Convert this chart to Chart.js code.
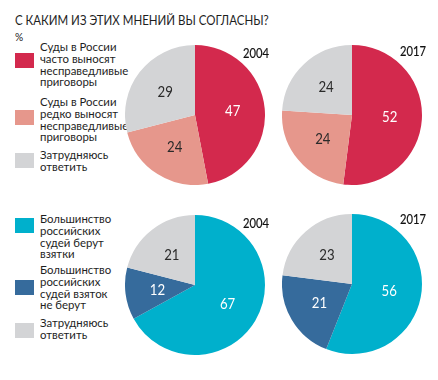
<!DOCTYPE html>
<html><head><meta charset="utf-8">
<script src="https://cdn.jsdelivr.net/npm/chart.js@4.4.0/dist/chart.umd.min.js"></script>
<style>
html,body{margin:0;padding:0;background:#fff;}
body{width:438px;height:380px;position:relative;overflow:hidden;font-family:Lato,"Noto Sans",sans-serif;color:#222;}
.abs{position:absolute;}
#title{left:15px;top:11px;font-size:14px;white-space:nowrap;transform:scaleX(0.82);transform-origin:0 0;color:#1e1e1e;}
#pct{left:15px;top:29px;font-size:12px;transform:scaleX(0.85);transform-origin:0 0;}
.sq{position:absolute;width:19px;height:15px;}
.lt{position:absolute;left:40px;font-size:12px;line-height:11.8px;width:100px;white-space:nowrap;color:#1e1e1e;transform:scaleX(0.95);transform-origin:0 0;}
.yr{position:absolute;font-size:14px;transform:scaleX(0.8);transform-origin:0 0;color:#111;-webkit-text-stroke:0.2px #111;}
canvas{position:absolute;}
</style></head><body>
<div id="title" class="abs">С КАКИМ ИЗ ЭТИХ МНЕНИЙ ВЫ СОГЛАСНЫ?</div>
<div id="pct" class="abs">%</div>
<div id="root"></div>
<script>
// ---- data ----
const categoriesVerdicts = ["Суды в России часто выносят несправедливые приговоры", "Суды в России редко выносят несправедливые приговоры", "Затрудняюсь ответить"];
const categoriesBribes = ["Большинство российских судей берут взятки", "Большинство российских судей взяток не берут", "Затрудняюсь ответить"];
const years = ["2004", "2017"];
const verdicts2004 = [47, 24, 29];
const verdicts2017 = [52, 24, 24];
const bribes2004 = [67, 12, 21];
const bribes2017 = [56, 21, 23];

// ---- styles ----
const colorsVerdicts = ["#D3294D", "#E6978C", "#D3D4D6"];
const colorsBribes = ["#00B0CC", "#366B9C", "#D3D4D6"];
const labelColorsVerdicts = ["#ffffff", "#2a2a2a", "#2a2a2a"];
const labelColorsBribes = ["#ffffff", "#ffffff", "#2a2a2a"];

const root = document.getElementById('root');

function legend(cats, colors, sqTops, textTops, lineBreaks){
  cats.forEach((c,i)=>{
    const s=document.createElement('div');s.className='sq';
    s.style.left='15px';s.style.top=sqTops[i]+'px';s.style.background=colors[i];
    root.appendChild(s);
    const t=document.createElement('div');t.className='lt';
    t.style.top=textTops[i]+'px';
    t.innerHTML=lineBreaks[i];
    root.appendChild(t);
  });
}
legend(categoriesVerdicts, colorsVerdicts, [53,110,153], [41,96,149],
  ["Суды в России<br>часто выносят<br>несправедливые<br>приговоры",
   "Суды в России<br>редко выносят<br>несправедливые<br>приговоры",
   "Затрудняюсь<br>ответить"]);
legend(categoriesBribes, colorsBribes, [218,280,323], [213,264,317],
  ["Большинство<br>российских<br>судей берут<br>взятки",
   "Большинство<br>российских<br>судей взяток<br>не берут",
   "Затрудняюсь<br>ответить"]);

const labelPlugin = {
  id:'sliceLabels',
  afterDatasetsDraw(chart){
    const ctx=chart.ctx;
    const meta=chart.getDatasetMeta(0);
    const ds=chart.data.datasets[0];
    ctx.save();
    ctx.font='15px Lato, "Noto Sans", sans-serif';
    ctx.textAlign='center';ctx.textBaseline='middle';
    meta.data.forEach((arc,i)=>{
      const p=arc.getProps(['x','y','startAngle','endAngle','outerRadius'],true);
      const mid=(p.startAngle+p.endAngle)/2;
      const r=p.outerRadius*0.54;
      const x=p.x+Math.cos(mid)*r, y=p.y+Math.sin(mid)*r;
      ctx.save();
      ctx.translate(x,y);ctx.scale(0.88,1);
      ctx.fillStyle=ds.labelColors[i];
      ctx.fillText(String(ds.data[i]),0,0);
      ctx.restore();
    });
    ctx.restore();
  }
};

function pie(left, top, cats, values, colors, labelColors, year, yearLeft, yearTop){
  const cv=document.createElement('canvas');
  cv.width=140;cv.height=140;
  cv.style.left=left+'px';cv.style.top=top+'px';
  cv.style.width='140px';cv.style.height='140px';
  root.appendChild(cv);
  new Chart(cv,{
    type:'pie',
    data:{labels:cats,datasets:[{data:values,backgroundColor:colors,borderWidth:0,labelColors:labelColors}]},
    options:{responsive:false,animation:false,events:[],
      layout:{padding:0},
      plugins:{legend:{display:false},tooltip:{enabled:false}}},
    plugins:[labelPlugin]
  });
  const y=document.createElement('div');y.className='yr';
  y.style.left=yearLeft+'px';y.style.top=yearTop+'px';y.textContent=year;
  root.appendChild(y);
}
pie(125,45,categoriesVerdicts,verdicts2004,colorsVerdicts,labelColorsVerdicts,years[0],243,44);
pie(282,45,categoriesVerdicts,verdicts2017,colorsVerdicts,labelColorsVerdicts,years[1],400,42);
pie(125,215,categoriesBribes,bribes2004,colorsBribes,labelColorsBribes,years[0],243,214);
pie(282,214,categoriesBribes,bribes2017,colorsBribes,labelColorsBribes,years[1],400,210);
</script>
</body></html>
